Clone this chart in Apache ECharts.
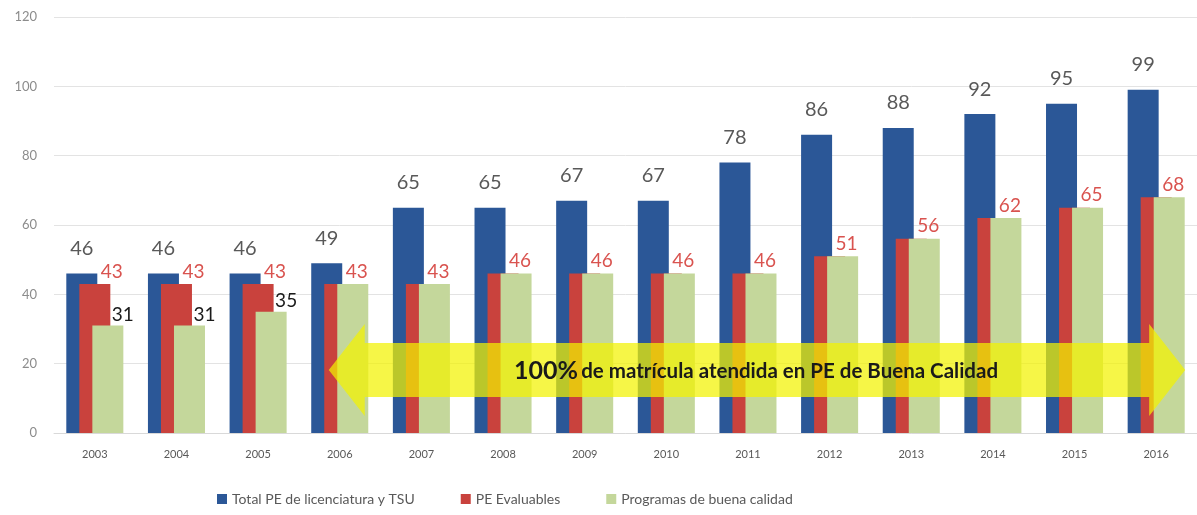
<!DOCTYPE html>
<html>
<head>
<meta charset="utf-8">
<script src="https://cdn.jsdelivr.net/npm/echarts@6/dist/echarts.min.js"></script>
<style>
  html, body { margin: 0; padding: 0; background: #fff; }
  #main { width: 1197px; height: 515px; }
</style>
</head>
<body>
<div id="main"></div>
<script>
// datos
var years = ['2003', '2004', '2005', '2006', '2007', '2008', '2009', '2010', '2011', '2012', '2013', '2014', '2015', '2016'];
var totalPE = [46, 46, 46, 49, 65, 65, 67, 67, 78, 86, 88, 92, 95, 99];
var evaluables = [43, 43, 43, 43, 43, 46, 46, 46, 46, 51, 56, 62, 65, 68];
var buenaCalidad = [31, 31, 35, 43, 43, 46, 46, 46, 46, 51, 56, 62, 65, 68];
var yTicks = [0, 20, 40, 60, 80, 100, 120];

var fontFam = 'Lato, "Open Sans", sans-serif';

var myChart = echarts.init(document.getElementById('main'));

// solo se etiqueta el verde cuando no coincide con el rojo
var greenData = buenaCalidad.map(function (v, i) {
    return { value: v, label: { show: v !== evaluables[i] } };
});

var option = {
    animation: false,
    textStyle: { fontFamily: fontFam },
    grid: { left: 54, top: 17, width: 1148, height: 416, containLabel: false },
    legend: {
        left: 212,
        top: 487,
        itemWidth: 10,
        itemHeight: 10,
        itemGap: 46,
        icon: 'rect',
        textStyle: { fontSize: 14, color: '#595959', fontFamily: fontFam },
        data: ['Total PE de licenciatura y TSU', 'PE Evaluables', 'Programas de buena calidad']
    },
    xAxis: {
        type: 'category',
        data: years,
        axisLine: { lineStyle: { color: '#d9d9d9' } },
        axisTick: { show: false },
        axisLabel: { fontSize: 11, color: '#595959', margin: 16 }
    },
    yAxis: {
        type: 'value',
        min: yTicks[0],
        max: yTicks[yTicks.length - 1],
        interval: 20,
        axisLine: { show: false },
        axisTick: { show: false },
        axisLabel: { fontSize: 13, color: '#8c8c8c', margin: 17 },
        splitLine: { lineStyle: { color: '#e3e3e3' } }
    },
    series: [
        {
            name: 'Total PE de licenciatura y TSU',
            type: 'bar',
            data: totalPE,
            barWidth: 31,
            barGap: '-58%',
            itemStyle: { color: '#2b5797' },
            label: { show: true, position: 'top', distance: 15, fontSize: 20, color: '#595959' }
        },
        {
            name: 'PE Evaluables',
            type: 'bar',
            data: evaluables,
            barWidth: 31,
            barGap: '-58%',
            itemStyle: { color: '#c9423d' },
            label: { show: true, position: 'top', distance: 3, offset: [17, 0], fontSize: 19, color: '#d9534f' }
        },
        {
            name: 'Programas de buena calidad',
            type: 'bar',
            data: greenData,
            barWidth: 31,
            barGap: '-58%',
            itemStyle: { color: '#c4d79b' },
            label: { show: true, position: 'top', distance: 1, offset: [15, 0], fontSize: 19, color: '#1a1a1a' }
        }
    ]
};

myChart.setOption(option);

// flecha amarilla de anotación
var pL = myChart.convertToPixel({ xAxisIndex: 0, yAxisIndex: 0 }, [3, 18.2]);
var pR = myChart.convertToPixel({ xAxisIndex: 0, yAxisIndex: 0 }, [13, 18.2]);
var xl = pL[0] - 11, xr = pR[0] + 29, cy = pL[1];
var bh = 27, hh = 46, hl = 36;
myChart.setOption({
    graphic: [
        {
            type: 'polygon',
            z: 100,
            shape: {
                points: [
                    [xl, cy], [xl + hl, cy - hh], [xl + hl, cy - bh],
                    [xr - hl, cy - bh], [xr - hl, cy - hh], [xr, cy],
                    [xr - hl, cy + hh], [xr - hl, cy + bh], [xl + hl, cy + bh],
                    [xl + hl, cy + hh]
                ]
            },
            style: { fill: 'rgba(242,242,0,0.72)' }
        },
        {
            type: 'text',
            z: 101,
            x: (xl + xr) / 2 - 1,
            y: cy + 1,
            style: {
                text: '{a|100%} {b|de matrícula atendida en PE de Buena Calidad}',
                align: 'center',
                verticalAlign: 'middle',
                rich: {
                    a: { fontSize: 25, fontWeight: 'bold', fill: '#1a1a1a', fontFamily: fontFam },
                    b: { fontSize: 20.5, fontWeight: 'bold', fill: '#1a1a1a', fontFamily: fontFam }
                }
            }
        }
    ]
});
</script>
</body>
</html>
